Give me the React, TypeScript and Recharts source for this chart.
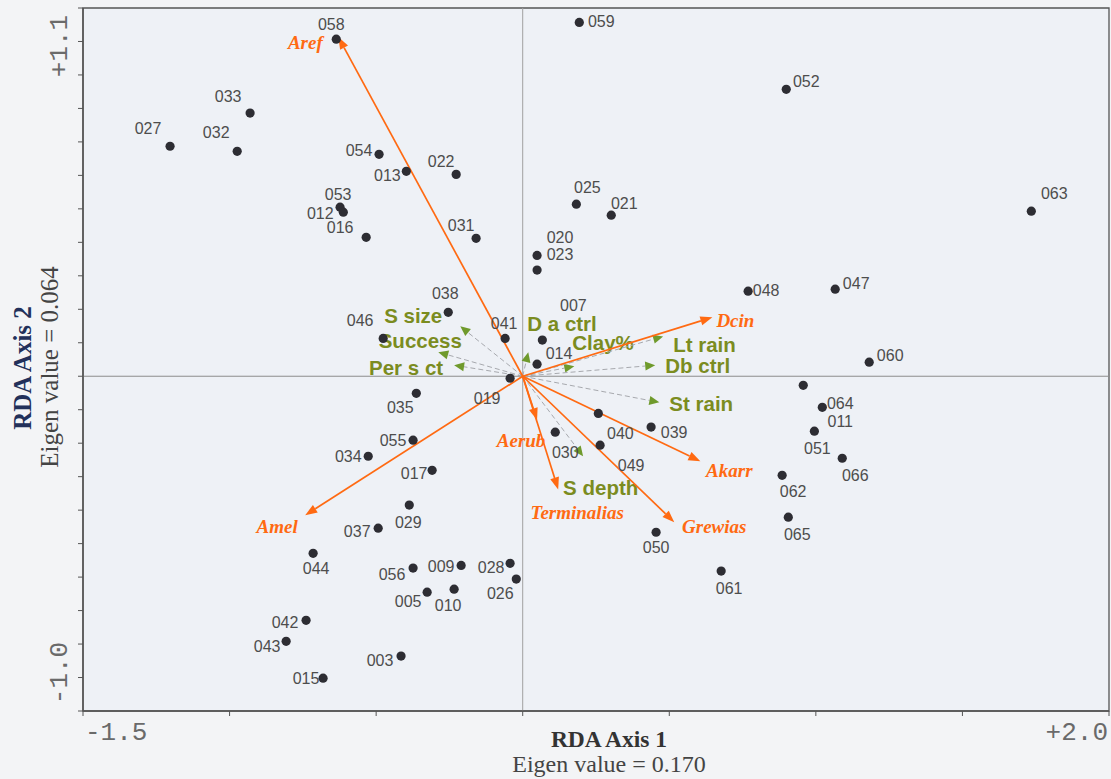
import React from 'react';
import { ScatterChart, Scatter, XAxis, YAxis, ReferenceLine, ReferenceArea } from 'recharts';

// ---- Site scores (RDA axis 1, axis 2) ----
const siteIds = ['058','033','027','032','054','013','022','053','012','016','059','025','021','031','020','023','052','063','048','047','060','011','064','051','066','062','065','061','050','039','040','049','030','014','007','041','019','038','046','035','055','034','017','029','037','044','056','009','028','026','005','010','003','042','043','015'];
const siteX = [-0.636,-0.930,-1.203,-0.974,-0.490,-0.397,-0.227,-0.623,-0.612,-0.534,0.193,0.183,0.302,-0.159,0.049,0.049,0.899,1.735,0.769,1.066,1.182,0.957,1.022,0.995,1.090,0.885,0.906,0.677,0.455,0.438,0.258,0.264,0.111,0.049,0.067,-0.060,-0.043,-0.254,-0.476,-0.363,-0.374,-0.527,-0.309,-0.387,-0.493,-0.715,-0.374,-0.210,-0.043,-0.022,-0.326,-0.234,-0.415,-0.739,-0.807,-0.681];
const siteY = [1.007,0.786,0.687,0.672,0.663,0.612,0.603,0.505,0.490,0.415,1.057,0.514,0.481,0.412,0.361,0.317,0.857,0.493,0.254,0.260,0.042,-0.027,-0.093,-0.164,-0.245,-0.296,-0.421,-0.582,-0.466,-0.152,-0.111,-0.206,-0.167,0.036,0.108,0.113,-0.006,0.191,0.113,-0.051,-0.191,-0.239,-0.281,-0.385,-0.454,-0.529,-0.573,-0.565,-0.559,-0.606,-0.645,-0.636,-0.836,-0.729,-0.792,-0.902];

// ---- Species arrows ----
const speciesNames = ['Aref','Dcin','Akarr','Grewias','Terminalias','Aerub','Amel'];
const speciesX = [-0.629,0.647,0.606,0.517,0.121,0.049,-0.742];
const speciesY = [1.013,0.176,-0.254,-0.436,-0.338,-0.131,-0.415];

// ---- Environmental arrows ----
const envNames = ['S size','Success','Per s ct','D a ctrl','Clay%','Lt rain','Db ctrl','St rain','S depth'];
const envX = [-0.213,-0.288,-0.234,0.019,0.176,0.479,0.452,0.466,0.206];
const envY = [0.149,0.072,0.033,0.072,0.030,0.119,0.033,-0.078,-0.239];

// ---- Axis ticks ----
const xTicks = [-1.5,-1.0,-0.5,0,0.5,1.0,1.5,2.0];
const yTicks = [-1.0,-0.9,-0.8,-0.7,-0.6,-0.5,-0.4,-0.3,-0.2,-0.1,0,0.1,0.2,0.3,0.4,0.5,0.6,0.7,0.8,0.9,1.0,1.1];
const xTickLabels: Record<string,string> = { '-1.5': '-1.5', '2': '+2.0' };
const yTickLabels: Record<string,string> = { '1.1': '+1.1', '-1': '-1.0' };

// ---- label placement (pixels, relative to mark) ----
const siteLabelOffset: Record<string,[number,number]> = {
  '058':[-5,-15],'033':[-22,-17],'027':[-22,-18],'032':[-21,-19],'054':[-20,-4],'013':[-19,4],'022':[-15,-13],
  '053':[-2,-13],'012':[-23,1],'016':[-26,-10],'059':[22,-1],'025':[11,-17],'021':[13,-12],'031':[-15,-13],
  '020':[23,-18],'023':[23,-16],'052':[20,-8],'063':[23,-18],'048':[18,-1],'047':[21,-6],'060':[21,-7],
  '011':[37,36],'064':[18,-4],'051':[3,17],'066':[13,17],'062':[11,16],'065':[9,17],'061':[8,17],'050':[0,15],
  '039':[23,5],'040':[22,20],'049':[31,20],'030':[10,20],'014':[22,-11],'007':[31,-35],'041':[-1,-15],
  '019':[-23,20],'038':[-3,-19],'046':[-23,-18],'035':[-16,14],'055':[-20,0],'034':[-20,0],'017':[-18,3],
  '029':[-1,17],'037':[-21,3],'044':[3,15],'056':[-21,6],'009':[-20,1],'028':[-19,4],'026':[-16,14],
  '005':[-19,9],'010':[-6,16],'003':[-21,4],'042':[-21,2],'043':[-19,5],'015':[-17,0],
};
const speciesLabelOffset: Record<string,[number,number]> = {
  Aref:[-33,5], Dcin:[23,3], Akarr:[29,9], Grewias:[40,4], Terminalias:[19,23], Aerub:[-16,20], Amel:[-28,11],
};
const envLabelPlace: Record<string,[number,number,string]> = {
  'S size':[-18,-11,'end'], 'Success':[-18,-12,'middle'], 'Per s ct':[-11,2,'end'], 'D a ctrl':[-1,-29,'start'],
  'Clay%':[-2,-24,'start'], 'Lt rain':[10,8,'start'], 'Db ctrl':[10,0,'start'], 'St rain':[10,1,'start'],
  'S depth':[-20,31,'start'],
};

const ORANGE = '#ff6a12';
const GREEN_TXT = '#7b8c1f';
const GREEN_HEAD = '#6f9a2c';

const sites = siteIds.map((id, i) => ({ id, x: siteX[i], y: siteY[i] }));

function head(x1: number, y1: number, x2: number, y2: number, L: number, W: number) {
  const a = Math.atan2(y2 - y1, x2 - x1);
  const bx = x2 - L * Math.cos(a), by = y2 - L * Math.sin(a);
  const px = -Math.sin(a) * W, py = Math.cos(a) * W;
  return { bx, by, pts: `${x2},${y2} ${bx + px},${by + py} ${bx - px},${by - py}` };
}

const speciesShape = (name: string) => (p: any) => {
  const { x1, y1, x2, y2 } = p;
  const h = head(x1, y1, x2, y2, 12, 4.5);
  const [dx, dy] = speciesLabelOffset[name];
  return (
    <g>
      <line x1={x1} y1={y1} x2={h.bx} y2={h.by} stroke={ORANGE} strokeWidth={1.7} />
      <polygon points={h.pts} fill={ORANGE} />
      <text x={x2 + dx} y={y2 + dy} textAnchor="middle" dominantBaseline="central"
        fontFamily="'Liberation Serif', serif" fontWeight="bold" fontStyle="italic" fontSize={19} fill={ORANGE}>{name}</text>
    </g>
  );
};

const envShape = (name: string) => (p: any) => {
  const { x1, y1, x2, y2 } = p;
  const h = head(x1, y1, x2, y2, 10, 4.5);
  const [dx, dy, anchor] = envLabelPlace[name];
  return (
    <g>
      <line x1={x1} y1={y1} x2={h.bx} y2={h.by} stroke="#a7a9ae" strokeWidth={1} strokeDasharray="5 3" />
      <polygon points={h.pts} fill={GREEN_HEAD} />
      <text x={x2 + dx} y={y2 + dy} textAnchor={anchor as any} dominantBaseline="central"
        fontFamily="'Liberation Sans', Arial, sans-serif" fontWeight="bold" fontSize={20.5} fill={GREEN_TXT}>{name}</text>
    </g>
  );
};

const SiteDot = (p: any) => {
  const { cx, cy, payload } = p;
  const off = siteLabelOffset[payload.id] || [0, -14];
  return (
    <g>
      <circle cx={cx} cy={cy} r={4.6} fill="#2d2d33" />
      <text x={cx + off[0]} y={cy + off[1]} textAnchor="middle" dominantBaseline="central"
        fontFamily="'Liberation Sans', Arial, sans-serif" fontSize={16} fill="#4d4d4d">{payload.id}</text>
    </g>
  );
};

const XTick = (p: any) => {
  const { x, y, payload } = p;
  const lab = xTickLabels[String(payload.value)];
  if (!lab) return null;
  const isLeft = payload.value < 0;
  return (
    <text x={isLeft ? x + 2 : x - 1} y={y + 22} textAnchor={isLeft ? 'start' : 'end'}
      fontFamily="'Liberation Mono', 'DejaVu Sans Mono', monospace" fontSize={26} fill="#6a6a6a">{lab}</text>
  );
};

const YTick = (p: any) => {
  const { x, y, payload } = p;
  const lab = yTickLabels[String(payload.value)];
  if (!lab) return null;
  const cx = x - 18;
  const cy = payload.value > 0 ? y + 38 : y - 38;
  return (
    <text x={cx} y={cy} textAnchor="middle" dominantBaseline="central" transform={`rotate(-90, ${cx}, ${cy})`}
      fontFamily="'Liberation Mono', 'DejaVu Sans Mono', monospace" fontSize={26} fill="#6a6a6a">{lab}</text>
  );
};

export default function App() {
  return (
    <div style={{ position: 'fixed', left: 0, top: 0, width: 1111, height: 779, background: '#f3f4f6', overflow: 'hidden' }}>
      <ScatterChart width={1111} height={779} margin={{ top: 8, right: 2, bottom: 38, left: 23 }}>
        <XAxis type="number" dataKey="x" domain={[-1.5, 2.0]} ticks={xTicks} interval={0} height={30}
          axisLine={{ stroke: '#555', strokeWidth: 1.5 }} tickLine={{ stroke: '#555' }} tickSize={5} tickMargin={2}
          tick={<XTick />} allowDataOverflow />
        <YAxis type="number" dataKey="y" domain={[-1.0, 1.1]} ticks={yTicks} interval={0} width={60}
          axisLine={{ stroke: '#555', strokeWidth: 1.5 }} tickLine={{ stroke: '#555' }} tickSize={5} tickMargin={0}
          tick={<YTick />} allowDataOverflow />
        <ReferenceArea x1={-1.5} x2={2.0} y1={-1.0} y2={1.1} fill="#eef1f6" fillOpacity={1} stroke="#555" strokeWidth={1.3} />
        <ReferenceLine y={0} stroke="#8c8c8c" strokeWidth={1} />
        <ReferenceLine x={0} stroke="#a0a0a0" strokeWidth={1} />
        {envNames.map((n, i) => (
          <ReferenceLine key={n} segment={[{ x: 0, y: 0 }, { x: envX[i], y: envY[i] }]} shape={envShape(n)} />
        ))}
        <Scatter data={sites} isAnimationActive={false} shape={<SiteDot />} />
        {speciesNames.map((n, i) => (
          <ReferenceLine key={n} segment={[{ x: 0, y: 0 }, { x: speciesX[i], y: speciesY[i] }]} shape={speciesShape(n)} />
        ))}
      </ScatterChart>
      <svg width={1111} height={779} style={{ position: 'absolute', left: 0, top: 0, pointerEvents: 'none' }}>
        <text x={609} y={747} textAnchor="middle" fontFamily="'Liberation Serif', serif" fontWeight="bold" fontSize={23.5} fill="#333">RDA Axis 1</text>
        <text x={609} y={772} textAnchor="middle" fontFamily="'Liberation Serif', serif" fontSize={24} fill="#444">Eigen value = 0.170</text>
        <text x={22} y={368} textAnchor="middle" dominantBaseline="central" transform="rotate(-90, 22, 368)"
          fontFamily="'Liberation Serif', serif" fontWeight="bold" fontSize={25} fill="#22305a">RDA Axis 2</text>
        <text x={49} y={367} textAnchor="middle" dominantBaseline="central" transform="rotate(-90, 49, 367)"
          fontFamily="'Liberation Serif', serif" fontSize={25} fill="#444">Eigen value = 0.064</text>
      </svg>
    </div>
  );
}
